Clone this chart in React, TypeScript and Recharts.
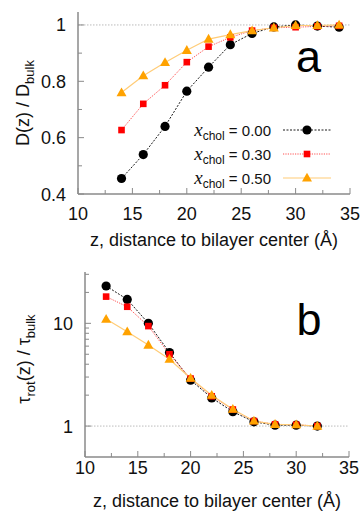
import React from "react";
import { LineChart, Line, XAxis, YAxis, ReferenceLine, Legend } from "recharts";

// panel a: lateral diffusion relative to bulk
const zA = [14, 16, 18, 20, 22, 24, 26, 28, 30, 32, 34];
const dA0 = [0.455, 0.54, 0.64, 0.765, 0.85, 0.93, 0.97, 0.993, 1.0, 0.996, 0.992];
const dA30 = [0.627, 0.72, 0.786, 0.868, 0.923, 0.956, 0.98, 0.99, 0.992, 0.995, 0.997];
const dA50 = [0.76, 0.82, 0.867, 0.91, 0.95, 0.966, 0.98, 0.99, 0.998, 0.998, 1.0];

// panel b: rotational correlation time relative to bulk
const zB = [12, 14, 16, 18, 20, 22, 24, 26, 28, 30, 32];
const tB0 = [23.1, 17.1, 10.0, 5.2, 2.8, 1.88, 1.38, 1.1, 1.02, 1.02, 1.0];
const tB30 = [18.2, 14.5, 9.4, 5.0, 2.9, 1.95, 1.45, 1.12, 1.04, 1.03, 1.0];
const tB50 = [11.0, 8.3, 6.15, 4.47, 2.92, 2.0, 1.46, 1.12, 1.04, 1.03, 1.0];

const xTicks = [10, 12.5, 15, 17.5, 20, 22.5, 25, 27.5, 30, 32.5, 35];
const yTicksA = [0.4, 0.5, 0.6, 0.7, 0.8, 0.9, 1];
const yTicksB = [1, 2, 3, 4, 5, 6, 7, 8, 9, 10, 20, 30];
const cholLabels = ["0.00", "0.30", "0.50"];

const FONT = "'Liberation Sans', Arial, sans-serif";
const FRAME = "#8a8a8a";

const rowsA = zA.map((z, i) => ({ z, s0: dA0[i], s30: dA30[i], s50: dA50[i] }));
const rowsB = zB.map((z, i) => ({ z, s0: tB0[i], s30: tB30[i], s50: tB50[i] }));

const Circle = ({ cx, cy }: { cx: number; cy: number }) => (
  <circle cx={cx} cy={cy} r={4.6} fill="#000" />
);
const Square = ({ cx, cy }: { cx: number; cy: number }) => (
  <rect x={cx - 3.3} y={cy - 3.3} width={6.6} height={6.6} fill="#ff0000" />
);
const Triangle = ({ cx, cy }: { cx: number; cy: number }) => (
  <polygon
    points={`${cx},${cy - 5.2} ${cx - 5},${cy + 3.6} ${cx + 5},${cy + 3.6}`}
    fill="#ffa200"
  />
);

const series = [
  { key: "s0", stroke: "#000", dash: "2 1.5", width: 0.9, Marker: Circle },
  { key: "s30", stroke: "#ff5050", dash: "1.2 1.2", width: 1, Marker: Square },
  { key: "s50", stroke: "#ffcc77", dash: undefined, width: 1.2, Marker: Triangle },
];

const makeXTick =
  (side: "bottom" | "top", labelDy: number) =>
  (props: any) => {
    const { x, y, payload } = props;
    const major = payload.value % 5 === 0;
    const len = major ? 6 : 4;
    return (
      <g>
        <line x1={x} x2={x} y1={y} y2={side === "bottom" ? y - len : y + len} stroke={FRAME} />
        {side === "bottom" && major && (
          <text x={x} y={y + labelDy} textAnchor="middle" fontSize={18} fontFamily={FONT} fill="#111">
            {payload.value}
          </text>
        )}
      </g>
    );
  };

const makeYTick =
  (side: "left" | "right", isMajor: (v: number) => boolean, fmt: (v: number) => string | null) =>
  (props: any) => {
    const { x, y, payload } = props;
    const major = isMajor(payload.value);
    const len = major ? 6 : 4;
    const label = side === "left" ? fmt(payload.value) : null;
    return (
      <g>
        <line x1={x} x2={side === "left" ? x + len : x - len} y1={y} y2={y} stroke={FRAME} />
        {label && (
          <text x={x - 12} y={y + 6.5} textAnchor="end" fontSize={18} fontFamily={FONT} fill="#111">
            {label}
          </text>
        )}
      </g>
    );
  };

const xTitle = (dy: number) => (props: any) => {
  const { viewBox } = props;
  return (
    <text
      x={viewBox.x + viewBox.width / 2}
      y={viewBox.y + dy}
      textAnchor="middle"
      fontSize={18}
      fontFamily={FONT}
      fill="#111"
    >
      z, distance to bilayer center (Å)
    </text>
  );
};

const Letter = ({ ch, x, y }: { ch: string; x: number; y: number }) => (
  <text x={x} y={y} textAnchor="middle" fontSize={45} fontFamily={FONT} fill="#000">
    {ch}
  </text>
);

const LegendA = (props: any) => {
  const { payload } = props;
  return (
    <div style={{ fontFamily: FONT }}>
      {(payload || []).map((entry: any, i: number) => {
        const s = series[i];
        const M = s.Marker;
        return (
          <div key={i} style={{ display: "flex", alignItems: "center", height: 24 }}>
            <span style={{ width: 88, textAlign: "right", fontSize: 15, color: "#111", whiteSpace: "nowrap" }}>
              <span style={{ fontFamily: "'Liberation Serif', 'Times New Roman', serif", fontStyle: "italic", fontSize: 19 }}>
                x
              </span>
              <span style={{ fontSize: 12, position: "relative", top: 4 }}>chol</span> = {entry.value}
            </span>
            <svg width={60} height={24} style={{ marginLeft: 12 }}>
              <line x1={0} x2={48} y1={12} y2={12} stroke={s.stroke} strokeWidth={s.width} strokeDasharray={s.dash} />
              <M cx={24} cy={12} />
            </svg>
          </div>
        );
      })}
    </div>
  );
};

export default function App() {
  return (
    <div style={{ position: "absolute", left: 0, top: 0, width: 363, height: 512, background: "#fff" }}>
      <div style={{ position: "absolute", left: 0, top: 0 }}>
        <LineChart width={363} height={250} data={rowsA} margin={{ top: 12, right: 13, bottom: 0, left: 0 }}>
          <XAxis
            xAxisId="b"
            dataKey="z"
            type="number"
            domain={[10, 35]}
            ticks={xTicks}
            interval={0}
            height={56}
            tickSize={0}
            tickMargin={0}
            tickLine={false}
            axisLine={{ stroke: FRAME, strokeWidth: 1.5 }}
            tick={makeXTick("bottom", 25.5)}
            label={{ content: xTitle(52) }}
          />
          <XAxis
            xAxisId="t"
            orientation="top"
            type="number"
            domain={[10, 35]}
            ticks={xTicks}
            interval={0}
            height={0}
            tickSize={0}
            tickMargin={0}
            tickLine={false}
            axisLine={{ stroke: FRAME, strokeWidth: 1.5 }}
            tick={makeXTick("top", 0)}
          />
          <YAxis
            yAxisId="l"
            type="number"
            domain={[0.4, 1.046]}
            ticks={yTicksA}
            interval={0}
            width={78}
            tickSize={0}
            tickMargin={0}
            tickLine={false}
            allowDataOverflow
            axisLine={{ stroke: FRAME, strokeWidth: 1.5 }}
            tick={makeYTick(
              "left",
              (v) => Math.round(v * 10) % 2 === 0,
              (v) => (Math.round(v * 10) % 2 === 0 ? (v === 1 ? "1" : v.toFixed(1)) : null)
            )}
            label={{
              content: () => (
                <g>
                  <text transform="translate(29,103) rotate(-90)" textAnchor="middle" fontSize={18} fontFamily={FONT} fill="#111">
                    D(z) / D
                    <tspan dy={5} fontSize={13}>
                      bulk
                    </tspan>
                  </text>
                  <Letter ch="a" x={308.5} y={72} />
                </g>
              ),
            }}
          />
          <YAxis
            yAxisId="r"
            orientation="right"
            type="number"
            domain={[0.4, 1.046]}
            ticks={yTicksA}
            interval={0}
            width={0}
            tickSize={0}
            tickMargin={0}
            tickLine={false}
            allowDataOverflow
            axisLine={{ stroke: FRAME, strokeWidth: 1.5 }}
            tick={makeYTick("right", () => true, () => null)}
          />
          <ReferenceLine xAxisId="b" yAxisId="l" y={1} stroke="#aaa" strokeDasharray="1.5 1.5" strokeWidth={0.8} />
          {series.map((s, i) => (
            <Line
              key={s.key}
              xAxisId="b"
              yAxisId="l"
              dataKey={s.key}
              name={cholLabels[i]}
              stroke={s.stroke}
              strokeWidth={s.width}
              strokeDasharray={s.dash}
              isAnimationActive={false}
              dot={(p: any) => <s.Marker key={`${s.key}-${p.index}`} cx={p.cx} cy={p.cy} />}
              activeDot={false}
            />
          ))}
          <Legend
            layout="vertical"
            align="center"
            verticalAlign="middle"
            content={LegendA}
            wrapperStyle={{ left: 183, top: 118, width: 170 }}
          />
        </LineChart>
      </div>

      <div style={{ position: "absolute", left: 0, top: 250 }}>
        <LineChart width={363} height={262} data={rowsB} margin={{ top: 22, right: 14, bottom: 0, left: 0 }}>
          <XAxis
            xAxisId="b"
            dataKey="z"
            type="number"
            domain={[10, 35]}
            ticks={xTicks}
            interval={0}
            height={55}
            tickSize={0}
            tickMargin={0}
            tickLine={false}
            axisLine={{ stroke: FRAME, strokeWidth: 1.5 }}
            tick={makeXTick("bottom", 17)}
            label={{ content: xTitle(50) }}
          />
          <XAxis
            xAxisId="t"
            orientation="top"
            type="number"
            domain={[10, 35]}
            ticks={xTicks}
            interval={0}
            height={0}
            tickSize={0}
            tickMargin={0}
            tickLine={false}
            axisLine={{ stroke: FRAME, strokeWidth: 1.5 }}
            tick={makeXTick("top", 0)}
          />
          <YAxis
            yAxisId="l"
            type="number"
            scale="log"
            domain={[0.5, 31.6]}
            ticks={yTicksB}
            interval={0}
            width={85}
            tickSize={0}
            tickMargin={0}
            tickLine={false}
            allowDataOverflow
            axisLine={{ stroke: FRAME, strokeWidth: 1.5 }}
            tick={makeYTick(
              "left",
              (v) => v === 1 || v === 10,
              (v) => (v === 1 || v === 10 ? String(v) : null)
            )}
            label={{
              content: () => (
                <g>
                  <text transform="translate(30,109) rotate(-90)" textAnchor="middle" fontSize={18} fontFamily={FONT} fill="#111">
                    τ
                    <tspan dy={5} fontSize={13}>
                      rot
                    </tspan>
                    <tspan dy={-5}>(z) / τ</tspan>
                    <tspan dy={5} fontSize={13}>
                      bulk
                    </tspan>
                  </text>
                  <Letter ch="b" x={309} y={85} />
                </g>
              ),
            }}
          />
          <YAxis
            yAxisId="r"
            orientation="right"
            type="number"
            scale="log"
            domain={[0.5, 31.6]}
            ticks={yTicksB}
            interval={0}
            width={0}
            tickSize={0}
            tickMargin={0}
            tickLine={false}
            allowDataOverflow
            axisLine={{ stroke: FRAME, strokeWidth: 1.5 }}
            tick={makeYTick("right", (v) => v === 1 || v === 10, () => null)}
          />
          <ReferenceLine xAxisId="b" yAxisId="l" y={1} stroke="#aaa" strokeDasharray="1.5 1.5" strokeWidth={0.8} />
          {series.map((s, i) => (
            <Line
              key={s.key}
              xAxisId="b"
              yAxisId="l"
              dataKey={s.key}
              name={cholLabels[i]}
              stroke={s.stroke}
              strokeWidth={s.width}
              strokeDasharray={s.dash}
              isAnimationActive={false}
              dot={(p: any) => <s.Marker key={`${s.key}-${p.index}`} cx={p.cx} cy={p.cy} />}
              activeDot={false}
            />
          ))}
        </LineChart>
      </div>
    </div>
  );
}
